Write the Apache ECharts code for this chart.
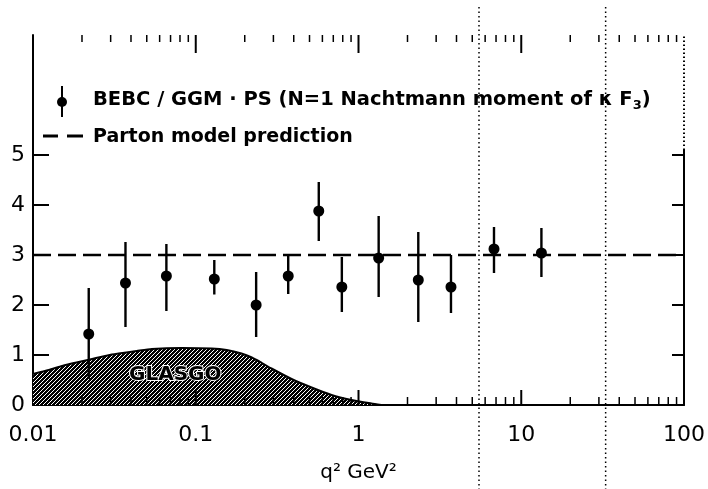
<!DOCTYPE html>
<html><head><meta charset="utf-8">
<script src="https://cdn.jsdelivr.net/npm/echarts@6/dist/echarts.min.js"></script>
<style>html,body{margin:0;padding:0;background:#fff}#c{width:708px;height:489px}</style>
</head><body><div id="c"></div>
<script>
// ---- data ----
const q2Points   = [0.022, 0.037, 0.066, 0.13, 0.235, 0.37, 0.57, 0.79, 1.33, 2.33, 3.7, 6.8, 13.3];
const momentVals = [1.42, 2.44, 2.58, 2.52, 2.0, 2.58, 3.88, 2.36, 2.94, 2.5, 2.36, 3.12, 3.04];
const errUp      = [0.92, 0.82, 0.64, 0.38, 0.66, 0.40, 0.58, 0.60, 0.84, 0.96, 0.64, 0.44, 0.50];
const errDown    = [0.90, 0.88, 0.70, 0.31, 0.64, 0.36, 0.60, 0.50, 0.78, 0.84, 0.52, 0.48, 0.48];

const partonQ2  = [0.01, 100];
const partonVal = [3, 3];

const glasgoQ2  = [0.01, 0.0125, 0.0151, 0.0185, 0.0224, 0.0305, 0.0434, 0.0537, 0.082, 0.125, 0.155, 0.191, 0.221, 0.255, 0.292, 0.388, 0.515, 0.683, 0.906, 1.2, 1.38];
const glasgoVal = [0.62, 0.70, 0.78, 0.85, 0.91, 1.01, 1.08, 1.12, 1.14, 1.13, 1.10, 1.03, 0.95, 0.84, 0.73, 0.52, 0.35, 0.20, 0.10, 0.03, 0];

const boundaryQ2 = [5.5, 33];
const boundaryRange = [-1.7, 8.0];

const xTickLabels = ['0.01', '0.1', '1', '10', '100'];
const yTickLabels = ['0', '1', '2', '3', '4', '5'];
const majorTickQ2 = [0.1, 1, 10];
const minorTickQ2 = [0.02,0.03,0.04,0.05,0.06,0.07,0.08,0.09,
                     0.2,0.3,0.4,0.5,0.6,0.7,0.8,0.9,
                     2,3,4,5,6,7,8,9,
                     20,30,40,50,60,70,80,90];

// ---- stipple pattern for GLASGO region ----
const pc = document.createElement('canvas');
pc.width = 4; pc.height = 4;
const pctx = pc.getContext('2d');
pctx.fillStyle = '#fff'; pctx.fillRect(0,0,4,4);
pctx.fillStyle = '#000';
[[0,0],[1,0],[2,0],[1,1],[3,1],[0,2],[2,2],[3,2],[1,3],[3,3],[0,1],[2,3]].forEach(p => pctx.fillRect(p[0],p[1],1,1));

const FONT = 'DejaVu Sans';
const chart = echarts.init(document.getElementById('c'));

function tickRenderer(topLen, botLen, width) {
  return (params, api) => {
    const a = api.coord([api.value(0), api.value(1)]);
    const b = api.coord([api.value(0), api.value(2)]);
    return { type: 'group', children: [
      { type: 'line', shape: { x1: a[0], y1: a[1], x2: a[0], y2: a[1] - botLen }, style: { stroke: '#000', lineWidth: width } },
      { type: 'line', shape: { x1: b[0], y1: b[1], x2: b[0], y2: b[1] + topLen }, style: { stroke: '#000', lineWidth: width } }
    ]};
  };
}

const option = {
  backgroundColor: '#fff',
  animation: false,
  grid: { left: 33, right: 22, top: 35, bottom: 84, containLabel: false },
  xAxis: [{
    type: 'log', logBase: 10, min: 0.01, max: 100, position: 'bottom',
    axisLine: { show: true, lineStyle: { color: '#000', width: 2 } },
    axisTick: { show: false },
    axisLabel: { show: true, fontFamily: FONT, fontSize: 22, color: '#000', margin: 19,
      formatter: v => { const s = String(+(+v).toPrecision(3)); return xTickLabels.includes(s) ? s : ''; } },
    splitLine: { show: false },
    name: 'q² GeV²', nameLocation: 'middle', nameGap: 58,
    nameTextStyle: { fontFamily: FONT, fontSize: 20, color: '#000' }
  }, {
    type: 'log', logBase: 10, min: 0.01, max: 100, position: 'top',
    axisLine: { show: true, lineStyle: { color: '#000', width: 2 } },
    axisTick: { show: false },
    axisLabel: { show: false }, splitLine: { show: false }
  }],
  yAxis: [{
    type: 'value', min: 0, max: 7.4, interval: 1, position: 'left',
    axisLine: { show: true, lineStyle: { color: '#000', width: 2 } },
    axisTick: { show: true, inside: true, length: 16, customValues: [1,2,3,4,5], lineStyle: { color: '#000', width: 2 } },
    axisLabel: { fontFamily: FONT, fontSize: 22, color: '#000', margin: 8,
      formatter: v => yTickLabels.includes(String(v)) ? String(v) : '' },
    splitLine: { show: false }
  }, {
    type: 'value', min: 0, max: 7.4, interval: 1, position: 'right',
    axisLine: { show: false },
    axisTick: { show: true, inside: true, length: 12, customValues: [1,2,3,4,5], lineStyle: { color: '#000', width: 2 } },
    axisLabel: { show: false }, splitLine: { show: false }
  }],
  series: [
    {
      name: 'GLASGO', type: 'line', xAxisIndex: 0, yAxisIndex: 0,
      data: glasgoQ2.map((q, i) => [q, glasgoVal[i]]),
      smooth: 0.2, showSymbol: false, symbol: 'none', z: 1,
      lineStyle: { color: '#000', width: 2 },
      areaStyle: { color: { image: pc, repeat: 'repeat' }, opacity: 1 }
    },
    {
      name: 'Parton model prediction', type: 'line', xAxisIndex: 0, yAxisIndex: 0,
      data: partonQ2.map((q, i) => [q, partonVal[i]]),
      symbol: 'none', z: 3,
      lineStyle: { color: '#000', width: 2.5, type: [18, 7] }
    },
    {
      name: 'BEBC', type: 'custom', xAxisIndex: 0, yAxisIndex: 0, z: 5,
      data: q2Points.map((q, i) => [q, momentVals[i], momentVals[i] - errDown[i], momentVals[i] + errUp[i]]),
      encode: { x: 0, y: 1 },
      renderItem: (params, api) => {
        const c = api.coord([api.value(0), api.value(1)]);
        const lo = api.coord([api.value(0), api.value(2)]);
        const hi = api.coord([api.value(0), api.value(3)]);
        return { type: 'group', children: [
          { type: 'line', shape: { x1: lo[0], y1: lo[1], x2: hi[0], y2: hi[1] }, style: { stroke: '#000', lineWidth: 2.4 } },
          { type: 'circle', shape: { cx: c[0], cy: c[1], r: 5.5 }, style: { fill: '#000' } }
        ]};
      }
    },
    {
      name: 'boundaries', type: 'custom', xAxisIndex: 0, yAxisIndex: 0, z: 4, clip: false,
      data: boundaryQ2.map(q => [q, boundaryRange[0], boundaryRange[1]]),
      encode: { x: 0, y: 1 },
      renderItem: (params, api) => {
        const a = api.coord([api.value(0), api.value(1)]);
        const b = api.coord([api.value(0), api.value(2)]);
        return { type: 'line', shape: { x1: a[0], y1: a[1], x2: b[0], y2: b[1] },
          style: { stroke: '#000', lineWidth: 1.5, lineDash: [1.5, 3] } };
      }
    },
    {
      name: 'rightEdge', type: 'custom', xAxisIndex: 0, yAxisIndex: 0, z: 4, clip: false,
      data: [[100, 0, 5.1, 0], [100, 5.1, 7.4, 1]],
      encode: { x: 0, y: 1 },
      renderItem: (params, api) => {
        const a = api.coord([api.value(0), api.value(1)]);
        const b = api.coord([api.value(0), api.value(2)]);
        const dotted = api.value(3) === 1;
        return { type: 'line', shape: { x1: a[0], y1: a[1], x2: b[0], y2: b[1] },
          style: { stroke: '#000', lineWidth: 2, lineDash: dotted ? [1.5, 2.5] : null } };
      }
    },
    {
      name: 'minorTicks', type: 'custom', xAxisIndex: 0, yAxisIndex: 0, z: 4, clip: false,
      data: minorTickQ2.map(q => [q, 0, 7.4]),
      encode: { x: 0, y: 1 },
      renderItem: tickRenderer(7, 8, 1.5)
    },
    {
      name: 'majorTicks', type: 'custom', xAxisIndex: 0, yAxisIndex: 0, z: 4, clip: false,
      data: majorTickQ2.map(q => [q, 0, 7.4]),
      encode: { x: 0, y: 1 },
      renderItem: tickRenderer(18, 15, 2)
    }
  ],
  graphic: [
    { type: 'line', shape: { x1: 62, y1: 86, x2: 62, y2: 117 }, style: { stroke: '#000', lineWidth: 2 } },
    { type: 'circle', shape: { cx: 62, cy: 102, r: 5 }, style: { fill: '#000' } },
    { type: 'line', shape: { x1: 43, y1: 136, x2: 58, y2: 136 }, style: { stroke: '#000', lineWidth: 3 } },
    { type: 'line', shape: { x1: 67, y1: 136, x2: 83, y2: 136 }, style: { stroke: '#000', lineWidth: 3 } },
    { type: 'text', left: 93, top: 90, style: {
        text: '{a|BEBC / GGM · PS (N=1 Nachtmann moment of κ F}{s|3}{a|)}',
        rich: { a: { fontFamily: FONT, fontSize: 19.5, fontWeight: 'bold', fill: '#000' },
                s: { fontFamily: FONT, fontSize: 13, fontWeight: 'bold', fill: '#000', padding: [12, 0, 0, 0] } } } },
    { type: 'text', left: 93, top: 128, style: { text: 'Parton model prediction', fontFamily: FONT, fontSize: 19, fontWeight: 'bold', fill: '#000' } },
    { type: 'text', left: 128, top: 364, z: 10, style: { text: 'GLASGO', fontFamily: FONT, fontSize: 20, fontWeight: 'bold', fill: '#000', stroke: '#fff', lineWidth: 2 } }
  ]
};
chart.setOption(option);
</script>
</body></html>
